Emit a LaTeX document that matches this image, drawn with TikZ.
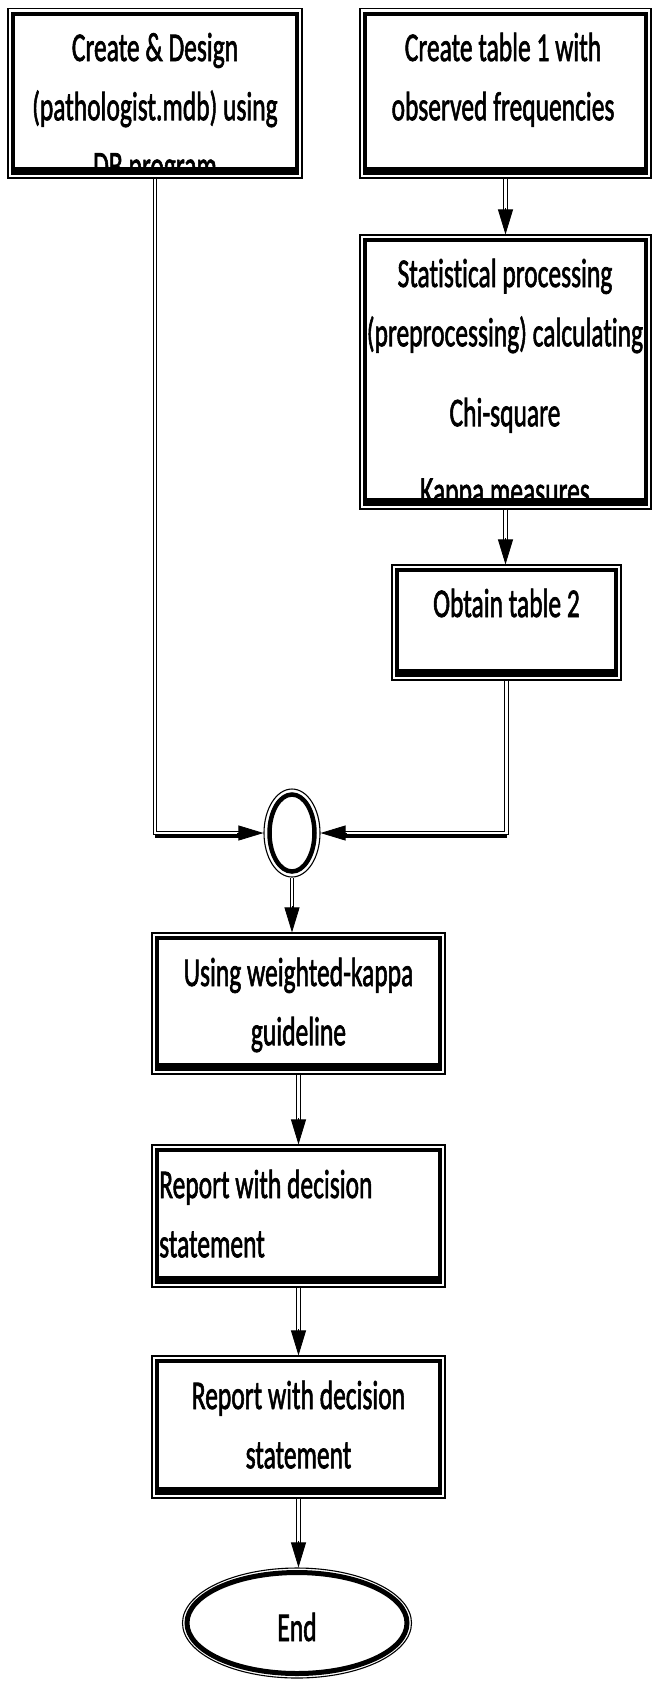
\documentclass[tikz,border=0pt]{standalone}
\usepackage{fontspec}
\setmainfont[Ligatures=NoCommon]{Carlito}
\newfontfamily\semibold[FakeBold=2,Ligatures=NoCommon]{Carlito}
\usepackage{graphicx}
\usetikzlibrary{arrows.meta,calc,shapes.geometric}
\tikzset{
  boxouter/.style={draw, line width=1.1pt, rectangle, inner sep=0pt},
  conn/.style={draw, double, line width=0.9pt, double distance=2.6pt},
  tipar/.style={-{Triangle[width=15pt,length=25pt]}, line width=0.8pt},
  lbl/.style={inner sep=0pt, font=\semibold\fontsize{25.5}{37}\selectfont},
}
\newcommand\vs[1]{\scalebox{1}[1.6]{#1}}
\newcommand\ctab[1]{\begin{tabular}[t]{@{}c@{}}#1\end{tabular}}
\newcommand\ltab[1]{\begin{tabular}[t]{@{}l@{}}#1\end{tabular}}
\newcommand\frameit[1]{%
  \draw[line width=4pt] ([xshift=5.5pt,yshift=-6pt]#1.north west) rectangle ([xshift=-5.5pt,yshift=5.5pt]#1.south east);
  \fill ([xshift=3.5pt,yshift=3.5pt]#1.south west) rectangle ([xshift=-3.5pt,yshift=12pt]#1.south east);}
\newcommand\clipit[1]{\clip ([xshift=6pt,yshift=-7pt]#1.north west) rectangle ([xshift=-6pt,yshift=8pt]#1.south east);}
\begin{document}
\begin{tikzpicture}[x=1pt,y=-1pt]
\useasboundingbox (0,0) rectangle (653,1682);

% box 1
\node[boxouter, minimum width=294pt, minimum height=169.5pt] (b1) at (155,93.25) {};
\begin{scope}\clipit{b1}
\node[lbl, anchor=base] (t1) at (155,61) {\vs{\ctab{Create \& Design\\(pathologist.mdb) using\\DB program}}};
\end{scope}
\frameit{b1}

% box 2
\node[boxouter, minimum width=291pt, minimum height=169.5pt] (b2) at (505.5,93.25) {};
\begin{scope}\clipit{b2}
\node[lbl, anchor=base] (t2) at (503,61) {\vs{\ctab{Create table 1 with\\observed frequencies}}};
\end{scope}
\frameit{b2}

% box 3
\node[boxouter, minimum width=291pt, minimum height=274pt] (b3) at (505.5,372) {};
\begin{scope}\clipit{b3}
\node[lbl, anchor=base] (t3) at (505,287) {\vs{\ctab{Statistical processing\\(preprocessing) calculating\\[13pt]Chi-square\\[12pt]Kappa measures}}};
\end{scope}
\frameit{b3}

% box 4
\node[boxouter, minimum width=229pt, minimum height=115pt] (b4) at (506.5,622.5) {};
\begin{scope}\clipit{b4}
\node[lbl, anchor=base] (t4) at (506.5,617) {\vs{\ctab{Obtain table 2}}};
\end{scope}
\frameit{b4}

% junction
\node[draw, ellipse, line width=1.1pt, minimum width=56pt, minimum height=88pt, inner sep=0pt] (j) at (292,833) {};
\draw[line width=4.5pt] (j.center) ellipse [x radius=22.5pt, y radius=38.5pt];

% box 5
\node[boxouter, minimum width=293pt, minimum height=141pt] (b5) at (298.5,1003.5) {};
\begin{scope}\clipit{b5}
\node[lbl, anchor=base] (t5) at (298.5,986) {\vs{\ctab{Using weighted-kappa\\guideline}}};
\end{scope}
\frameit{b5}

% box 6
\node[boxouter, minimum width=293pt, minimum height=142pt] (b6) at (298.5,1216) {};
\begin{scope}\clipit{b6}
\node[lbl, anchor=base west] (t6) at (159,1198) {\vs{\ltab{Report with decision\\statement}}};
\end{scope}
\frameit{b6}

% box 7
\node[boxouter, minimum width=293pt, minimum height=142pt] (b7) at (298.5,1427) {};
\begin{scope}\clipit{b7}
\node[lbl, anchor=base] (t7) at (298.5,1409) {\vs{\ctab{Report with decision\\statement}}};
\end{scope}
\frameit{b7}

% end
\node[draw, ellipse, line width=1.1pt, minimum width=229pt, minimum height=110pt, inner sep=0pt] (e) at (297,1623) {};
\draw[line width=5pt] (e.center) ellipse [x radius=110pt, y radius=50.5pt];
\node[lbl, anchor=base] (te) at (297,1641) {\vs{End}};

% connectors
\draw[conn] (b2.south) -- ([yshift=24pt]b3.north);
\draw[tipar] ([yshift=26pt]b3.north) -- (b3.north);
\draw[conn] (b3.south) -- ([yshift=24pt]b3.south |- b4.north);
\draw[tipar] ([yshift=26pt]b3.south |- b4.north) -- (b3.south |- b4.north);

\draw[conn] (b1.south) |- ([xshift=-24pt]j.west);
\draw[line width=3.5pt] ([yshift=-2.8pt]b1.south |- j.west) -- ([xshift=-24pt,yshift=-2.8pt]j.west);
\draw[tipar] ([xshift=-26pt]j.west) -- (j.west);
\draw[conn] (b4.south) |- ([xshift=24pt]j.east);
\draw[line width=3.5pt] ([yshift=-2.8pt]b4.south |- j.east) -- ([xshift=24pt,yshift=-2.8pt]j.east);
\draw[tipar] ([xshift=26pt]j.east) -- (j.east);

\draw[conn] (j.south) -- ([yshift=24pt]j.south |- b5.north);
\draw[tipar] ([yshift=26pt]j.south |- b5.north) -- (j.south |- b5.north);
\draw[conn] (b5.south) -- ([yshift=24pt]b6.north);
\draw[tipar] ([yshift=26pt]b6.north) -- (b6.north);
\draw[conn] (b6.south) -- ([yshift=24pt]b7.north);
\draw[tipar] ([yshift=26pt]b7.north) -- (b7.north);
\draw[conn] (b7.south) -- ([yshift=24pt]b7.south |- e.north);
\draw[tipar] ([yshift=26pt]b7.south |- e.north) -- (b7.south |- e.north);
\end{tikzpicture}
\end{document}
